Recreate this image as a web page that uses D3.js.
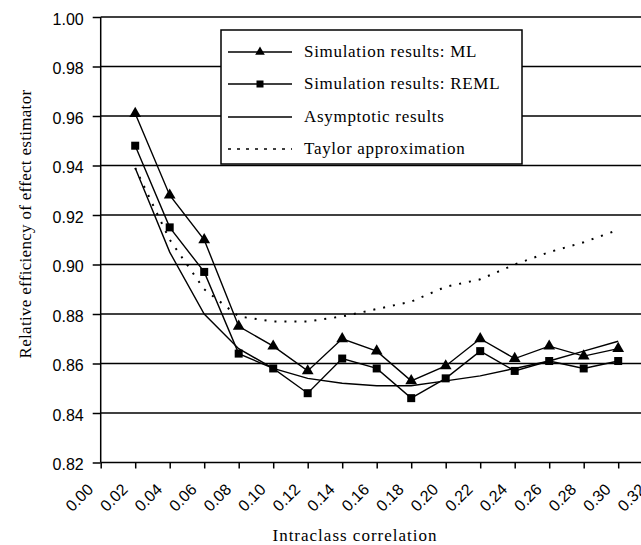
<!DOCTYPE html>
<html>
<head>
<meta charset="utf-8">
<script src="https://cdn.jsdelivr.net/npm/d3@7"></script>
<style>
html,body{margin:0;padding:0;background:#fff;}
svg{display:block;}
</style>
</head>
<body>
<svg id="chart" width="641" height="545"></svg>
<script>
// ---- data ----
const iccValues = [0.02,0.04,0.06,0.08,0.10,0.12,0.14,0.16,0.18,0.20,0.22,0.24,0.26,0.28,0.30];
const mlValues = [0.961,0.928,0.910,0.875,0.867,0.857,0.870,0.865,0.853,0.859,0.870,0.862,0.867,0.863,0.866];
const remlValues = [0.948,0.915,0.897,0.864,0.858,0.848,0.862,0.858,0.846,0.854,0.865,0.857,0.861,0.858,0.861];
const asymptoticValues = [0.939,0.905,0.880,0.866,0.858,0.854,0.852,0.851,0.851,0.853,0.855,0.858,0.861,0.865,0.869];
const taylorValues = [0.939,0.910,0.890,0.879,0.877,0.877,0.879,0.882,0.885,0.891,0.894,0.900,0.905,0.909,0.914];
const xTickValues = [0.00,0.02,0.04,0.06,0.08,0.10,0.12,0.14,0.16,0.18,0.20,0.22,0.24,0.26,0.28,0.30,0.32];
const yTickValues = [0.82,0.84,0.86,0.88,0.90,0.92,0.94,0.96,0.98,1.00];
const legendLabels = ["Simulation results: ML","Simulation results: REML","Asymptotic results","Taylor approximation"];
const xTitle = "Intraclass correlation";
const yTitle = "Relative efficiency of effect estimator";

const svg = d3.select("#chart");
const x = d3.scaleLinear().domain([0,0.32]).range([100.7,652.7]);
const y = d3.scaleLinear().domain([0.82,1.00]).range([462.5,17]);

const serif = "'Liberation Serif','Times New Roman',serif";
const sans = "'Liberation Sans',Arial,sans-serif";

// grid lines
svg.append("g").selectAll("line").data(yTickValues.filter(v=>v>0.82)).join("line")
  .attr("x1",x(0)).attr("x2",x(0.32))
  .attr("y1",d=>y(d)).attr("y2",d=>y(d))
  .attr("stroke","#000").attr("stroke-width",1.5);

// y axis
const yAxis = svg.append("g").attr("transform",`translate(${x(0)},0)`)
  .call(d3.axisLeft(y).tickValues(yTickValues).tickFormat(d3.format(".2f")).tickSize(8).tickPadding(9));
yAxis.select(".domain").attr("stroke","#000").attr("stroke-width",1.5).attr("d",`M0,${y(1.0)}V${y(0.82)}`);
yAxis.selectAll(".tick line").attr("stroke","#000").attr("stroke-width",1.5);
yAxis.selectAll(".tick text").attr("font-family",sans).attr("font-size",16).attr("fill","#000").attr("dy","0.45em");

// x axis
const xAxis = svg.append("g").attr("transform",`translate(0,${y(0.82)})`)
  .call(d3.axisBottom(x).tickValues(xTickValues).tickFormat(d3.format(".2f")).tickSize(6));
xAxis.select(".domain").attr("stroke","#000").attr("stroke-width",1.5).attr("d",`M${x(0)},0H${x(0.32)}`);
xAxis.selectAll(".tick line").attr("stroke","#000").attr("stroke-width",1.5);
xAxis.selectAll(".tick text")
  .attr("font-family",sans).attr("font-size",16).attr("fill","#000")
  .attr("text-anchor","end").attr("y",0).attr("dy",0)
  .attr("transform","translate(-7,28) rotate(-45)");

// series
const line = d3.line().x((d,i)=>x(iccValues[i])).y(d=>y(d));
svg.append("path").datum(asymptoticValues).attr("d",line).attr("fill","none").attr("stroke","#000").attr("stroke-width",1.4);
svg.append("path").datum(taylorValues).attr("d",line).attr("fill","none").attr("stroke","#000").attr("stroke-width",2)
  .attr("stroke-dasharray","2,8");
svg.append("path").datum(remlValues).attr("d",line).attr("fill","none").attr("stroke","#000").attr("stroke-width",1.4);
svg.append("path").datum(mlValues).attr("d",line).attr("fill","none").attr("stroke","#000").attr("stroke-width",1.4);

const tri = d3.symbol().type(d3.symbolTriangle).size(60);
svg.append("g").selectAll("path").data(mlValues).join("path")
  .attr("d",tri).attr("transform",(d,i)=>`translate(${x(iccValues[i])},${y(d)})`).attr("fill","#000");
svg.append("g").selectAll("rect").data(remlValues).join("rect")
  .attr("x",(d,i)=>x(iccValues[i])-4).attr("y",d=>y(d)-4).attr("width",8).attr("height",8).attr("fill","#000");

// legend
const lg = svg.append("g");
lg.append("rect").attr("x",221).attr("y",30).attr("width",301).attr("height",134)
  .attr("fill","#fff").attr("stroke","#000").attr("stroke-width",1.5);
const rowY = [52,84,117,149];
legendLabels.forEach((t,i)=>{
  const ry = rowY[i];
  const l = lg.append("line").attr("x1",228).attr("x2",292).attr("y1",ry).attr("y2",ry)
    .attr("stroke","#000").attr("stroke-width",i===3?1.5:1.3);
  if(i===3) l.attr("stroke-dasharray","3,6");
  if(i===0) lg.append("path").attr("d",d3.symbol().type(d3.symbolTriangle).size(40)).attr("transform",`translate(260,${ry})`);
  if(i===1) lg.append("rect").attr("x",256.5).attr("y",ry-3.5).attr("width",7).attr("height",7);
  lg.append("text").attr("x",304).attr("y",ry+5).text(t)
    .attr("font-family",serif).attr("font-size",17).attr("letter-spacing","0.7px").attr("fill","#000");
});

// titles
svg.append("text").attr("x",355).attr("y",541).attr("text-anchor","middle").text(xTitle)
  .attr("font-family",serif).attr("font-size",17).attr("letter-spacing","1px").attr("fill","#000");
svg.append("text").attr("transform","translate(31,224) rotate(-90)").attr("text-anchor","middle").text(yTitle)
  .attr("font-family",serif).attr("font-size",17).attr("letter-spacing","0.3px").attr("fill","#000");
</script>
</body>
</html>
